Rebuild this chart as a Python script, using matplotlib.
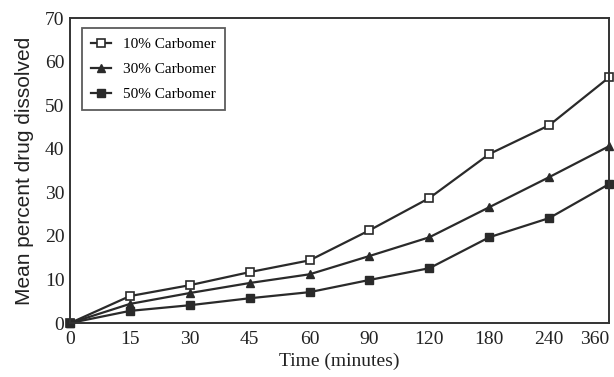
"""
Mean percent drug dissolved vs time for three carbomer levels.
"""

import matplotlib
matplotlib.use("Agg")
import matplotlib.pyplot as plt
import numpy as np

# ── DATA ──────────────────────────────────────────────────────────────────────
time_labels = ["0", "15", "30", "45", "60", "90", "120", "180", "240", "360"]

carb_10 = [0, 6.2, 8.7, 11.7, 14.4, 21.3, 28.7, 38.8, 45.4, 56.4]
carb_30 = [0, 4.4, 6.9, 9.2, 11.2, 15.4, 19.7, 26.6, 33.5, 40.6]
carb_50 = [0, 2.8, 4.1, 5.7, 7.1, 9.9, 12.6, 19.7, 24.1, 31.9]

y_ticks = [0, 10, 20, 30, 40, 50, 60, 70]

# ─────────────────────────────────────────────────────────────────────────────

def main():
    plt.rcParams["font.family"] = ["Liberation Serif", "DejaVu Serif"]

    fig = plt.figure(figsize=(6.14, 3.77), dpi=100)
    ax = fig.add_axes([0.114, 0.143, 0.878, 0.809])

    x = np.arange(len(time_labels))
    line_kw = dict(color="#2a2a2a", linewidth=1.6, markersize=6, clip_on=False)

    ax.plot(x, carb_10, marker="s", markerfacecolor="white",
            markeredgecolor="#2a2a2a", markeredgewidth=1.2,
            label="10% Carbomer", **line_kw)
    ax.plot(x, carb_30, marker="^", label="30% Carbomer", **line_kw)
    ax.plot(x, carb_50, marker="s", label="50% Carbomer", **line_kw)

    ax.set_xlim(0, len(time_labels) - 1)
    ax.set_ylim(0, 70)
    ax.set_xticks(x)
    ax.set_xticklabels(time_labels)
    ax.set_yticks(y_ticks)
    ax.tick_params(axis="both", length=0, labelsize=14, colors="#222222")
    ax.tick_params(axis="x", pad=6)
    ax.tick_params(axis="y", pad=4)
    # last label would run off the right edge
    ax.get_xticklabels()[-1].set_horizontalalignment("right")

    for sp in ax.spines.values():
        sp.set_color("#333333")
        sp.set_linewidth(1.4)

    ax.set_xlabel("Time (minutes)", fontsize=14, labelpad=3, color="#222222")
    ax.set_ylabel("Mean percent drug dissolved", fontsize=15, labelpad=8,
                  color="#222222", family=["Liberation Sans", "DejaVu Sans"])

    leg = ax.legend(loc="upper left", bbox_to_anchor=(0.022, 0.967),
                    borderaxespad=0, fontsize=11, frameon=True, fancybox=False,
                    edgecolor="#333333", handlelength=1.3, borderpad=0.6,
                    labelspacing=0.75)
    leg.get_frame().set_linewidth(1.3)

    fig.savefig("out.png", dpi=100)


if __name__ == "__main__":
    main()
